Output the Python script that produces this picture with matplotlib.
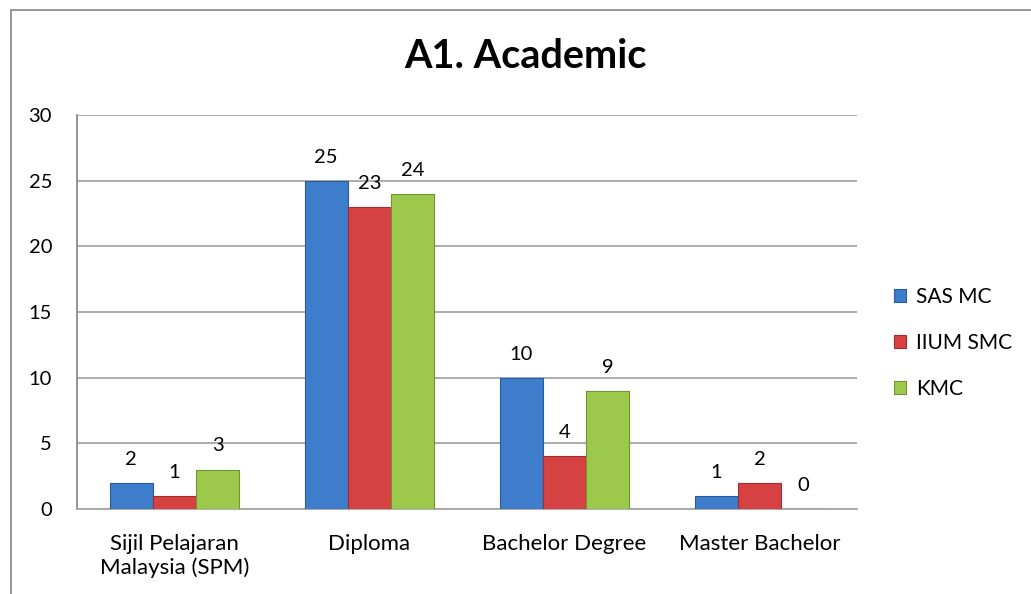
import matplotlib
matplotlib.use("Agg")
import matplotlib.pyplot as plt
from matplotlib.patches import Rectangle
import numpy as np

categories = ["Sijil Pelajaran\nMalaysia (SPM)", "Diploma", "Bachelor Degree", "Master Bachelor"]
series_names = ["SAS MC", "IIUM SMC", "KMC"]
sas_mc = [2, 25, 10, 1]
iium_smc = [1, 23, 4, 2]
kmc = [3, 24, 9, 0]
yticks = [0, 5, 10, 15, 20, 25, 30]

plt.rcParams['font.family'] = ['Lato', 'DejaVu Sans']

colors = ["#3D7DCC", "#D64242", "#9CC84B"]
edges = ["#2A5A99", "#A52C2C", "#6F9430"]

fig = plt.figure(figsize=(10.31, 5.94), dpi=100)
ax = fig.add_axes([77/1031, 85/594, 780/1031, 394/594])

x = np.arange(len(categories))
w = 0.222
for i, (vals, name) in enumerate(zip([sas_mc, iium_smc, kmc], series_names)):
    pos = x + (i - 1) * w
    ax.bar(pos, vals, width=w, color=colors[i], edgecolor=edges[i], linewidth=0.8,
           label=name, zorder=3)
    for p, v in zip(pos, vals):
        ax.text(p, v + 1.8, str(v), ha="center", va="center", fontsize=14.5,
                color="#000000", zorder=4)

ax.set_xlim(-0.5, len(categories) - 0.5)
ax.set_ylim(0, 30)
ax.set_yticks(yticks)
ax.set_yticklabels([str(t) for t in yticks], fontsize=14.5)
ax.set_xticks(x)
ax.set_xticklabels(categories, fontsize=16, linespacing=1.2)
ax.tick_params(axis="y", length=0, pad=18)
ax.tick_params(axis="x", length=0, pad=18)
ax.yaxis.grid(True, color="#A6A6A6", linewidth=1.3, zorder=0)
ax.set_axisbelow(True)
for s in ["top", "right"]:
    ax.spines[s].set_visible(False)
ax.spines["left"].set_color("#8C8C8C")
ax.spines["left"].set_linewidth(1.3)
ax.spines["bottom"].set_color("#A6A6A6")
ax.spines["bottom"].set_linewidth(1.3)

fig.text(525/1031, 1 - 56/594, "A1. Academic", ha="center", va="center",
         fontsize=28.5, fontweight="bold")

leg = ax.legend(loc="center left", bbox_to_anchor=(1.048, (509 - 343) / 394),
                frameon=False, fontsize=15, handlelength=0.55, handleheight=0.55,
                labelspacing=1.25, handletextpad=0.5, borderaxespad=0.0,
                borderpad=0.0)

fig.patches.append(Rectangle((11/1031, -0.05), 1.2, 1 - 10/594 + 0.05,
                             transform=fig.transFigure, fill=False,
                             edgecolor="#8C8C8C", linewidth=1.3))

fig.savefig("out.png", dpi=100)
